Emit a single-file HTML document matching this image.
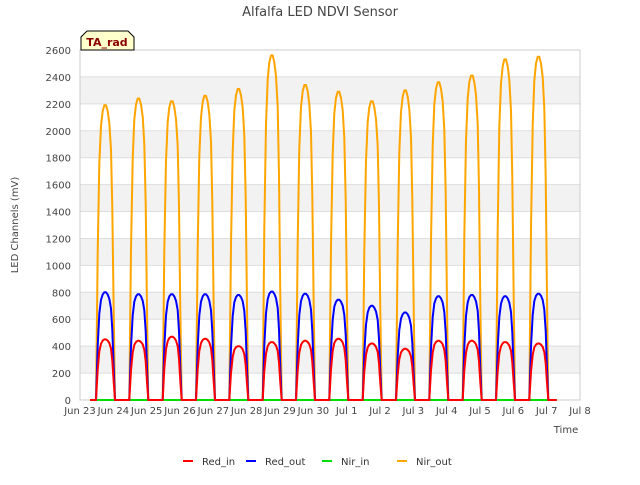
<!DOCTYPE html>
<html><head><meta charset="utf-8"><style>
body{margin:0;background:#fff;font-family:"Liberation Sans","DejaVu Sans",sans-serif}
svg text{font-family:"DejaVu Sans","Liberation Sans",sans-serif}
</style></head><body>
<svg id="c" width="640" height="480">
<text x="320" y="16" text-anchor="middle" font-size="13" fill="#444">Alfalfa LED NDVI Sensor</text>
<g id="bands"></g><g id="grid"></g>
<rect x="80" y="50" width="500" height="350" fill="none" stroke="#ccc"/>
<g id="ax" font-size="10" fill="#444"></g>
<g id="series"></g>
<text transform="translate(18,225) rotate(-90)" text-anchor="middle" font-size="10" fill="#444">LED Channels (mV)</text>
<text x="566" y="433" text-anchor="middle" font-size="10" fill="#444">Time</text>
<g><path d="M81,50 L81,37 L87,31 L128,31 L134,37 L134,50 Z" fill="#ffffcc" stroke="#000"/><text x="107" y="46" text-anchor="middle" font-size="11" font-weight="bold" fill="#8b0000">TA_rad</text></g>
<g id="legend" font-size="10" fill="#333"></g>
</svg>
<script>
const yTicks=[0,200,400,600,800,1000,1200,1400,1600,1800,2000,2200,2400,2600];
const xTickLabels=["Jun 23","Jun 24","Jun 25","Jun 26","Jun 27","Jun 28","Jun 29","Jun 30","Jul 1","Jul 2","Jul 3","Jul 4","Jul 5","Jul 6","Jul 7","Jul 8"];
const nirOutPeaks=[2190,2240,2220,2260,2310,2560,2340,2290,2220,2300,2360,2410,2530,2550];
const redOutPeaks=[800,785,785,785,780,805,790,745,700,650,770,780,770,790];
const redInPeaks=[450,440,470,455,400,430,440,455,420,380,440,440,430,420];
const nirInPeaks=[0,0,0,0,0,0,0,0,0,0,0,0,0,0,0];
const profileT=[0.48,0.53,0.58,0.63,0.68,0.73,0.78,0.83,0.88,0.93,0.97,1.01,1.05];
const profileF=[0,0.5,0.8,0.93,0.98,1,1,0.98,0.94,0.85,0.65,0.3,0];
const NS="http://www.w3.org/2000/svg";
const X=d=>80+d*500/15, Y=v=>400-v*350/2600;
function mk(t,a,p){const e=document.createElementNS(NS,t);for(const k in a)e.setAttribute(k,a[k]);p.appendChild(e);return e;}
const bands=document.getElementById('bands'),grid=document.getElementById('grid'),ax=document.getElementById('ax');
for(let i=1;i<yTicks.length-1;i+=2){const r=mk('rect',{x:80,y:Y(yTicks[i+1]),width:500,height:Y(yTicks[i])-Y(yTicks[i+1]),fill:'#f2f2f2'},bands);

}
yTicks.forEach(v=>{const l=mk('line',{x1:80,x2:580,y1:Y(v),y2:Y(v),stroke:'#ddd'},grid);


const t=mk('text',{x:71,y:Y(v)+4,'text-anchor':'end'},ax);t.textContent=v;

});
xTickLabels.forEach((s,i)=>{const t=mk('text',{x:X(i),y:414,'text-anchor':'middle'},ax);t.textContent=s;

});
const ser=document.getElementById('series');
function path(peaks,color,name){let d=`M${X(0.3)},${Y(0)}`;
peaks.forEach((p,i)=>{if(i>=14)return;profileT.forEach((t,j)=>{d+=` L${X(i+t).toFixed(1)},${Y(p*profileF[j]).toFixed(1)}`;});});
d+=` L${X(14.3)},${Y(0)}`;
const e=mk('path',{d:d,fill:'none',stroke:color,'stroke-width':2,'stroke-linejoin':'round'},ser);

}
path(nirInPeaks,'#00dd00','series-nir-in');
path(nirOutPeaks,'orange','series-nir-out');
path(redOutPeaks,'#0000ff','series-red-out');
path(redInPeaks,'#ff0000','series-red-in');
const leg=[["Red_in","#ff0000",183],["Red_out","#0000ff",246],["Nir_in","#00dd00",322],["Nir_out","orange",397]];
const lg=document.getElementById('legend');
leg.forEach(([n,c,x])=>{const g=mk('g',{},lg);


mk('line',{x1:x,x2:x+10,y1:461,y2:461,stroke:c,'stroke-width':2},g);
const t=mk('text',{x:x+19,y:465},g);t.textContent=n;});
</script>
</body></html>
